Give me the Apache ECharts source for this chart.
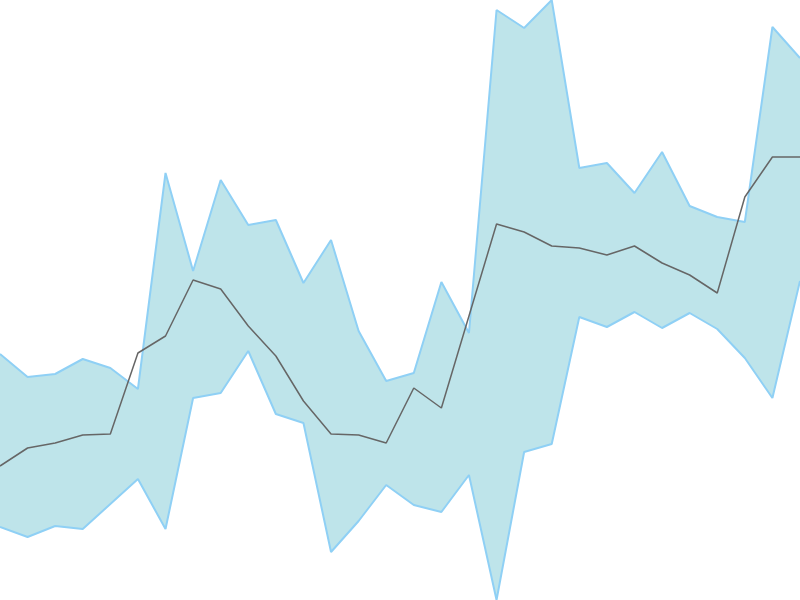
<!DOCTYPE html>
<html>
<head>
<meta charset="utf-8">
<script src="https://cdn.jsdelivr.net/npm/echarts@6/dist/echarts.min.js"></script>
<style>html,body{margin:0;padding:0;background:#fff;}#c{width:800px;height:600px;}</style>
</head>
<body>
<div id="c"></div>
<script>
var categories = [];
for (var i = 0; i < 30; i++) categories.push(String(i + 1));
var upper = [246,223,226,241,232,211,427,329,420,375,380,317,360,269,219,227,318,267,590,572,600,432,437,407,448,394,383,378,573,542];
var lower = [73,63,74,71,96,121,71,202,207,249,186,177,48,79,115,95,88,125,0,148,156,283,273,288,272,287,271,242,202,319];
var mid = [134,152,157,165,166,247,264,320,311,274,244,199,166,165,157,212,192,284,376,368,354,352,345,354,337,325,307,403,443,443];

var band = upper.map(function (u, i) { return u - lower[i]; });

var chart = echarts.init(document.getElementById('c'));
chart.setOption({
  animation: false,
  grid: { left: 0, right: 0, top: 0, bottom: 0 },
  xAxis: { type: 'category', data: categories, boundaryGap: false, show: false },
  yAxis: { type: 'value', min: 0, max: 600, show: false },
  series: [
    { type: 'line', data: lower, stack: 'band', symbol: 'none',
      lineStyle: { color: '#8fd0f5', width: 2 } },
    { type: 'line', data: band, stack: 'band', symbol: 'none',
      lineStyle: { color: '#8fd0f5', width: 2 },
      areaStyle: { color: '#bee4ea', opacity: 1 } },
    { type: 'line', data: mid, symbol: 'none',
      lineStyle: { color: '#666666', width: 1.5 } }
  ]
});
</script>
</body>
</html>
